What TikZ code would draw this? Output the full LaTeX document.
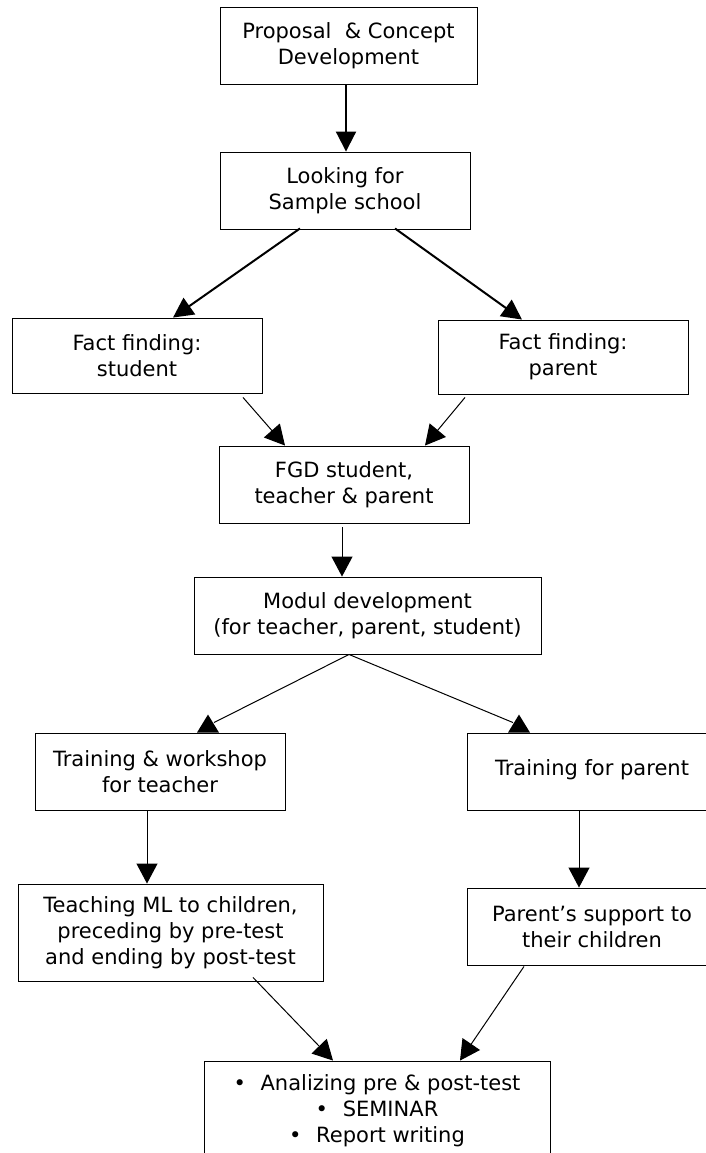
\documentclass[tikz,border=0pt]{standalone}
\usepackage{fontspec}
\setmainfont{DejaVu Sans}
\usepackage{tikz}
\usetikzlibrary{arrows.meta,calc,positioning}

\begin{document}
\begin{tikzpicture}[x=1pt,y=-1pt,font=\fontsize{21}{26}\selectfont,%
stepbox/.style={draw,rectangle,black,line width=0.9pt,align=center,inner sep=2pt},%
bigarrow/.style={-{Triangle[length=20pt,width=20pt]},line width=2pt},%
smallarrow/.style={-{Triangle[length=20pt,width=21pt]},line width=1pt}]%
\useasboundingbox (0,0) rectangle (705,1153);%
\node[stepbox,minimum width=257pt,minimum height=77pt] (prop) at (348.5,45.5) {Proposal\ \ \& Concept\\Development};%
\node[stepbox,minimum width=250pt,minimum height=77pt] (look) at (345,190.5) {Looking for\\Sample school};%
\node[stepbox,minimum width=250pt,minimum height=75pt] (ffs) at (137,355.5) {Fact finding:\\student};%
\node[stepbox,minimum width=250pt,minimum height=74pt] (ffp) at (563,357) {Fact finding:\\parent};%
\node[stepbox,minimum width=250pt,minimum height=77pt] (fgd) at (344,484.5) {FGD student,\\teacher \& parent};%
\node[stepbox,minimum width=347pt,minimum height=77pt] (modul) at (367.5,615.5) {Modul development\\(for teacher, parent, student)};%
\node[stepbox,minimum width=250pt,minimum height=77pt] (trt) at (160,771.5) {Training \& workshop\\for teacher};%
\node[stepbox,minimum width=250pt,minimum height=77pt,text depth=8pt] (trp) at (592,771.5) {Training for parent};%
\node[stepbox,minimum width=305pt,minimum height=97pt] (teach) at (170.5,932.5) {Teaching ML to children,\\preceding by pre-test\\and ending by post-test};%
\node[stepbox,minimum width=250pt,minimum height=77pt] (psup) at (592,926.5) {Parent’s support to\\their children};%
\node[stepbox,minimum width=346pt,minimum height=100pt] (final) at (377,1111) {\textbullet\hspace{0.7em}Analizing pre \& post-test\\\textbullet\hspace{0.7em}SEMINAR\\\textbullet\hspace{0.7em}Report writing};%
% arrows
\draw[bigarrow] ($(prop.south)+(-2.5,0)$) -- ($(look.north)+(1,0)$);%
\draw[bigarrow] ($(look.south)+(-45,-1)$) -- ($(ffs.north)+(36,0)$);%
\draw[bigarrow] ($(look.south)+(50,-1)$) -- ($(ffp.north)+(-41,0)$);%
\draw[smallarrow] ($(ffs.south)+(106,4)$) -- ($(fgd.north)+(-59,0)$);%
\draw[smallarrow] ($(ffp.south)+(-98,3)$) -- ($(fgd.north)+(81,0)$);%
\draw[smallarrow] ($(fgd.south)+(-2,4)$) -- ($(modul.north)+(-25.5,0)$);%
% branches with upright heads
\coordinate (tl) at ($(trt.north)+(48,0)$);%
\coordinate (tr) at ($(trp.north)+(-73,0)$);%
\draw[line width=1pt] ($(modul.south)+(-18.5,0)$) -- ($(tl)+(6,-10)$);%
\draw[line width=1pt] ($(modul.south)+(-18.5,0)$) -- ($(tr)+(-6,-10)$);%
\fill (tl) ++(-11,0) -- ++(22,0) -- ++(-11,-18) -- cycle;%
\fill (tr) ++(-11,0) -- ++(22,0) -- ++(-11,-18) -- cycle;%
\draw[smallarrow] ($(trt.south)+(-13,0)$) -- ($(teach.north)+(-23.5,0)$);%
\draw[smallarrow] ($(trp.south)+(-13,0)$) -- ($(psup.north)+(-13,0)$);%
\draw[smallarrow] ($(teach.south)+(82.5,-4)$) -- ($(final.north)+(-44,0)$);%
\draw[smallarrow] ($(psup.south)+(-68,1)$) -- ($(final.north)+(83,0)$);%
\end{tikzpicture}
\end{document}
